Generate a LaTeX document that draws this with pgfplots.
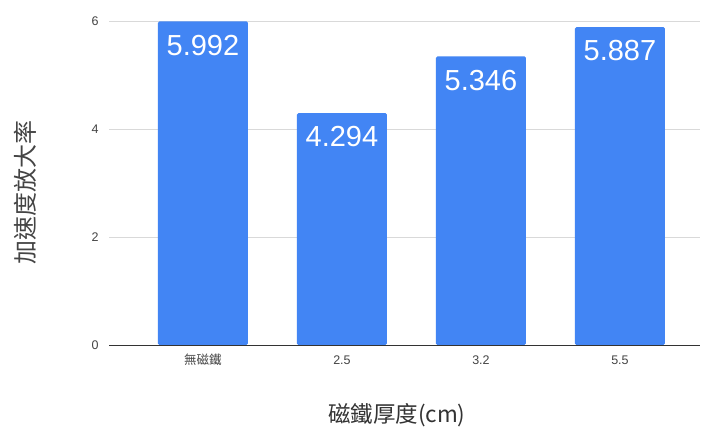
\documentclass[border=0pt]{standalone}
\usepackage{fontspec}
\setmainfont{Liberation Sans}
\newfontfamily\cjk{Noto Sans CJK TC}
\usepackage{pgfplots}
\pgfplotsset{compat=1.18}
\definecolor{barblue}{HTML}{4285F4}
\definecolor{gridc}{HTML}{D9D9D9}
\definecolor{axc}{HTML}{333333}
\definecolor{tickc}{HTML}{444444}
\begin{document}
\begin{tikzpicture}[x=1pt,y=1pt]
\useasboundingbox[fill=white] (0,0) rectangle (703,430);
\begin{axis}[
  at={(109pt,85pt)}, anchor=south west,
  scale only axis, width=591pt, height=324pt,
  ymin=0, ymax=6, xmin=-0.676, xmax=3.576,
  ytick={0,2,4,6},
  xtick=data,
  xticklabels={{\cjk 無磁鐵},2.5,3.2,5.5},
  axis x line*=bottom, axis y line*=left,
  x axis line style={color=axc, line width=0.8pt, -},
  y axis line style={draw=none},
  ymajorgrids, grid style={color=gridc, line width=0.8pt},
  major tick length=0pt,
  /pgf/number format/assume math mode=true,
  ticklabel style={font=\fontsize{12.5}{14}\selectfont, text=tickc},
  yticklabel style={anchor=east, xshift=-7pt},
  xticklabel style={anchor=center, yshift=-15pt},
  ylabel={\cjk 加速度放大率},
  xlabel={\cjk 磁鐵厚度(cm)},
  ylabel style={at={(axis description cs:-0.142,0.472)}, anchor=center, rotate=0, font=\fontsize{24}{28}\selectfont, text=tickc},
  xlabel style={at={(axis description cs:0.487,-0.216)}, anchor=center, font=\fontsize{22.5}{26}\selectfont, text=axc},
  clip=false,
]
\addplot[ybar, bar width=90pt, fill=barblue, draw=none, rounded corners=1.5pt,
  nodes near coords,
  point meta=explicit symbolic,
  every node near coord/.append style={anchor=north, yshift=-10pt, text=white, font=\fontsize{29}{34}\selectfont},
] table[meta=l] {
x y l
0 5.992 5.992
1 4.294 4.294
2 5.346 5.346
3 5.887 5.887
};
\end{axis}
\end{tikzpicture}
\end{document}
